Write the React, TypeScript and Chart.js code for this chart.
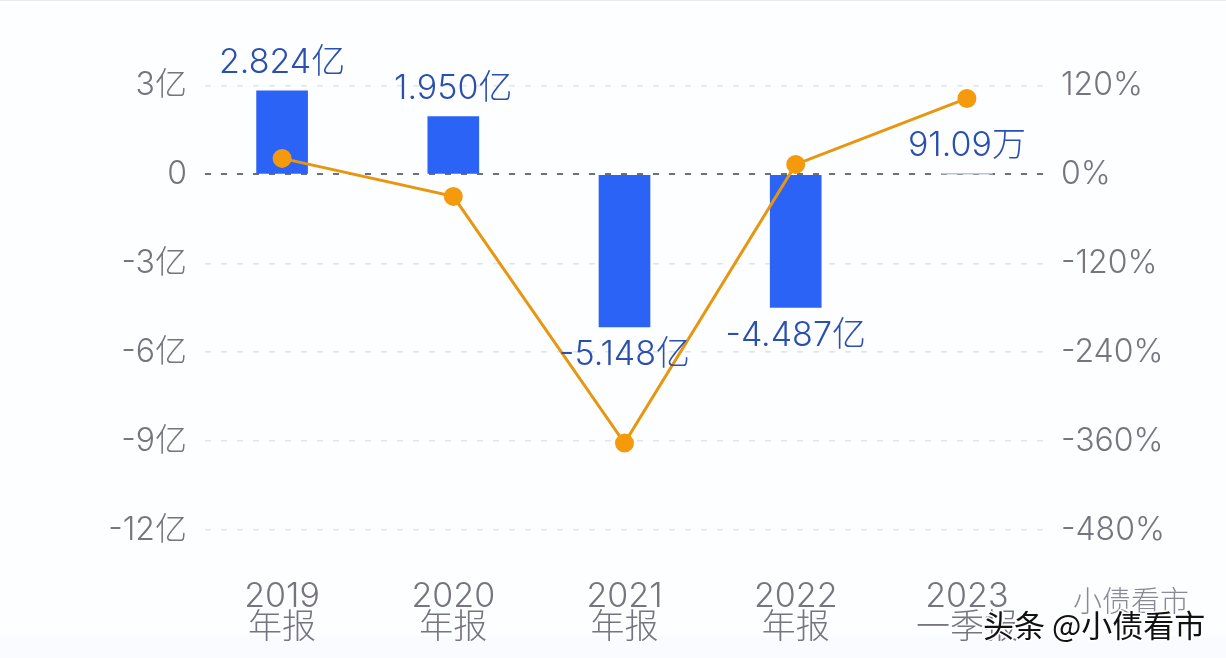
import React, { useEffect, useRef } from "react";
import { Chart, registerables } from "chart.js";

Chart.register(...registerables);

const years = ["2019", "2020", "2021", "2022", "2023"];
const periods = ["年报", "年报", "年报", "年报", "一季报"];
const profit = [2.824, 1.95, -5.148, -4.487, 0.0091];
const profitLabels = ["2.824亿", "1.950亿", "-5.148亿", "-4.487亿", "91.09万"];
const growth = [21.6, -29.7, -362.7, 13.5, 102.5];
const leftTicks = [3, 0, -3, -6, -9, -12];
const rightTicks = [120, 0, -120, -240, -360, -480];

const FONT = "Inter, 'Noto Sans CJK SC', sans-serif";
const W = 1226, H = 658, L = 205, R = 1043, T = 85.5, B = 530;

const decor = {
  id: "decor",
  beforeDraw(c: any) {
    const g = c.ctx;
    g.save();
    g.fillStyle = "#fdfeff";
    g.fillRect(0, 0, W, H);
    g.fillStyle = "#fafbfe";
    g.fillRect(0, 636, W, 22);
    g.fillStyle = "#e8eaed";
    g.fillRect(0, 0, W, 1);
    g.restore();
  },
  afterDatasetsDraw(c: any) {
    const g = c.ctx;
    const x = c.scales.x, y = c.scales.y;
    g.save();
    g.font = `300 34px ${FONT}`;
    g.fillStyle = "#2b4fae";
    g.textAlign = "center";
    g.textBaseline = "middle";
    profit.forEach((v, i) => {
      const dy = v >= 0 ? -28 : 28;
      g.fillText(profitLabels[i], x.getPixelForValue(i), y.getPixelForValue(v) + dy);
    });
    g.restore();
  },
  afterDraw(c: any) {
    const g = c.ctx;
    g.save();
    g.textBaseline = "middle";
    g.textAlign = "left";
    g.font = `300 29px ${FONT}`;
    g.fillStyle = "#8a8a96";
    g.fillText("小债看市", 1073, 603);
    g.font = `400 31px 'Noto Sans CJK SC', sans-serif`;
    g.lineWidth = 3;
    g.strokeStyle = "#ffffff";
    g.strokeText("头条 @小债看市", 983, 625);
    g.fillStyle = "#111111";
    g.fillText("头条 @小债看市", 983, 625);
    g.restore();
  },
};

export default function App() {
  const ref = useRef<HTMLCanvasElement>(null);
  useEffect(() => {
    const chart = new Chart(ref.current!, {
      type: "bar",
      plugins: [decor],
      data: {
        datasets: [
          {
            type: "line",
            data: growth.map((v, i) => ({ x: i, y: v })),
            yAxisID: "y1",
            borderColor: "#e8960f",
            borderWidth: 3,
            backgroundColor: "#f59a0c",
            pointBackgroundColor: "#f59a0c",
            pointBorderColor: "#f59a0c",
            pointRadius: 8,
            tension: 0,
            order: 1,
            clip: false,
          },
          {
            type: "bar",
            data: profit.map((v, i) => ({ x: i, y: v })),
            yAxisID: "y",
            backgroundColor: ["#2a63f6", "#2a63f6", "#2a63f6", "#2a63f6", "#b9c6dc"],
            barThickness: 51,
            order: 2,
          },
        ],
      } as any,
      options: {
        animation: false,
        responsive: false,
        events: [],
        layout: { padding: { top: T } },
        plugins: { legend: { display: false }, title: { display: false }, tooltip: { enabled: false } },
        scales: {
          x: {
            type: "linear",
            offset: false,
            min: (L - 282) / 171,
            max: 4 + (R - 967) / 171,
            afterBuildTicks: (s: any) => { s.ticks = years.map((_, i) => ({ value: i })); },
            afterFit: (s: any) => { s.height = H - B; },
            grid: { display: false },
            border: { display: false },
            ticks: {
              autoSkip: false,
              maxRotation: 0,
              padding: 43,
              color: "#77747f",
              font: { family: FONT, size: 34, weight: "300", lineHeight: 0.92 },
              callback: (v: any) => [years[v], periods[v]],
            },
          },
          y: {
            position: "left",
            min: -12,
            max: 3,
            afterBuildTicks: (s: any) => { s.ticks = leftTicks.map((value) => ({ value })); },
            afterFit: (s: any) => { s.width = L; },
            border: { display: false, dash: [6, 10] },
            grid: {
              drawTicks: false,
              lineWidth: (ctx: any) => (ctx.tick?.value === 0 ? 2 : 1.5),
              color: (ctx: any) => (ctx.tick?.value === 0 ? "#6b6f78" : "#dfe5eb"),
            },
            ticks: {
              padding: 18,
              color: "#77747f",
              font: { family: FONT, size: 32, weight: "300" },
              callback: (v: any) => (v === 0 ? "0" : `${v}亿`),
            },
          },
          y1: {
            position: "right",
            min: -480,
            max: 120,
            afterBuildTicks: (s: any) => { s.ticks = rightTicks.map((value) => ({ value })); },
            afterFit: (s: any) => { s.width = W - R; },
            border: { display: false },
            grid: { display: false },
            ticks: {
              padding: 10,
              color: "#77747f",
              font: { family: FONT, size: 32, weight: "300" },
              callback: (v: any) => `${v}%`,
            },
          },
        },
      } as any,
    });
    return () => chart.destroy();
  }, []);
  return (
    <div style={{ position: "fixed", left: 0, top: 0, width: W, height: H }}>
      <canvas ref={ref} width={W} height={H} style={{ display: "block" }} />
    </div>
  );
}
